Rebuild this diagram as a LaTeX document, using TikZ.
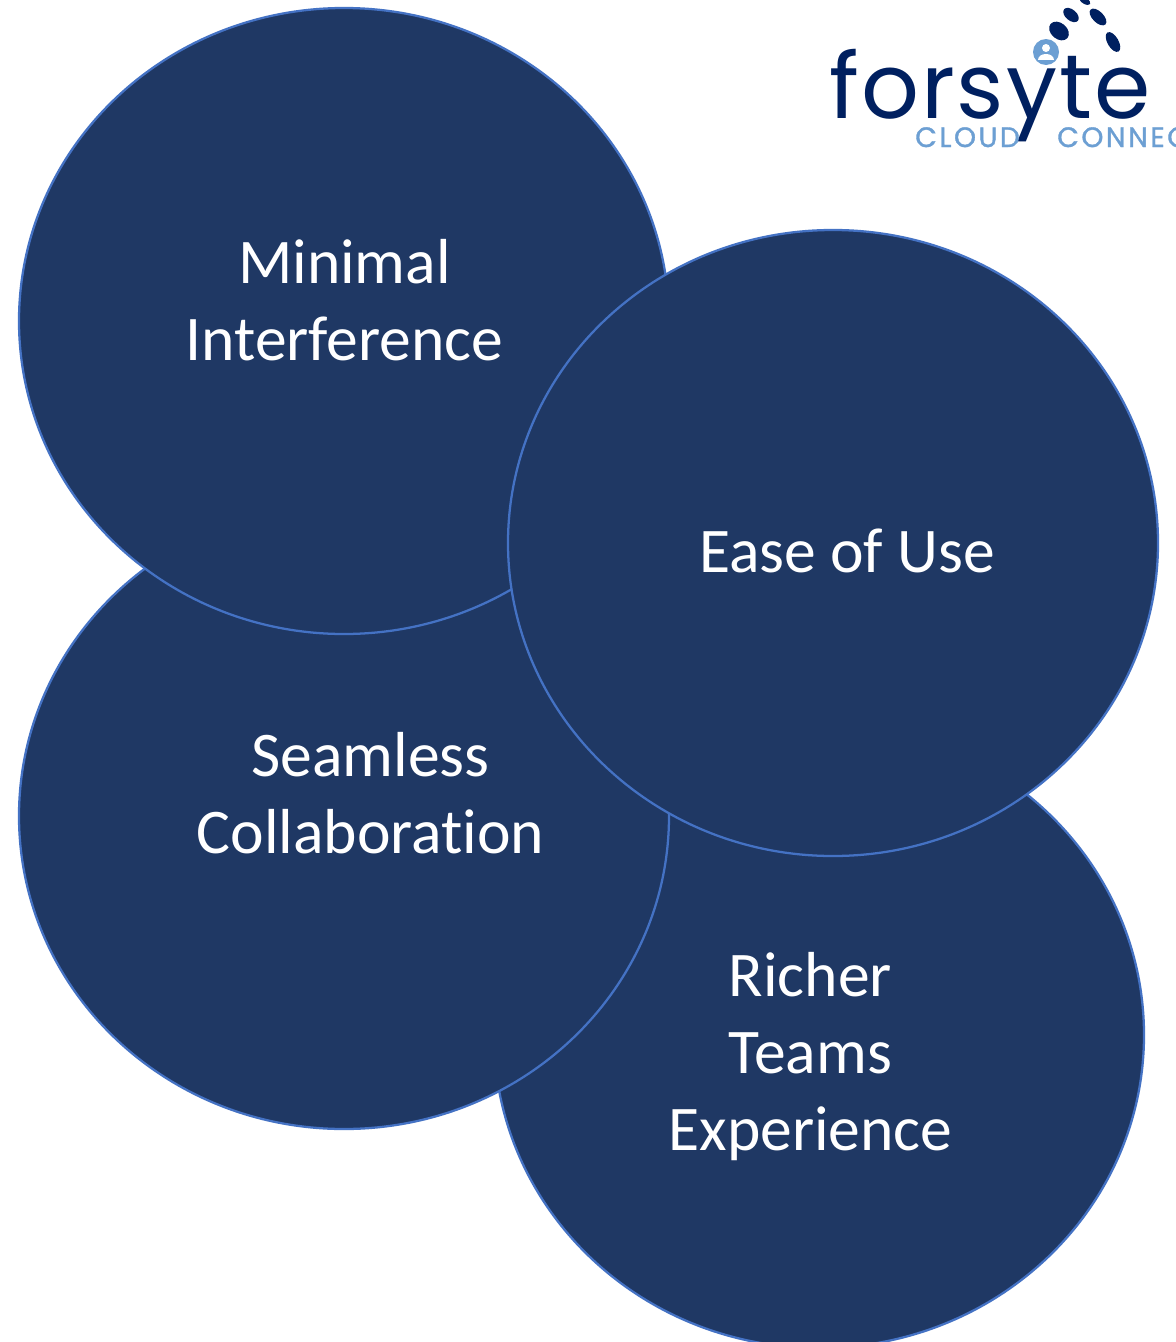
\documentclass[tikz,border=0pt]{standalone}
\usepackage{fontspec}
\setmainfont[Ligatures=NoCommon]{Carlito}
\newfontfamily\logofont[LetterSpace=2.2]{Poppins}
\newfontfamily\logosubfont[LetterSpace=9,FakeBold=1.2]{Poppins}
\definecolor{bubblefill}{HTML}{1F3864}
\definecolor{bubbleline}{HTML}{4472C4}
\definecolor{logonavy}{HTML}{002060}
\definecolor{logoblue}{HTML}{6C9FD3}
\tikzset{
  bubble/.style={draw=bubbleline,line width=1.7pt,fill=bubblefill},
  bubbletext/.style={text=white,font=\fontsize{47.7}{57.75}\selectfont,align=center,inner sep=0pt},
  subtext/.style={anchor=base west,inner sep=0pt,text=logoblue,font=\logosubfont\fontsize{21}{21}\selectfont},
  dot/.style={fill=logonavy,draw=none},
}
\begin{document}
\begin{tikzpicture}[x=0.75pt,y=-0.75pt]
\useasboundingbox[fill=white] (0,0) rectangle (1176,1342);
\begin{scope}
\clip (0,0) rectangle (1176,1342);
\path[bubble] (819,1035) ellipse [x radius=325,y radius=313];
\path[bubble] (344,816) ellipse [x radius=325,y radius=313];
\path[bubble] (344,321) ellipse [x radius=325,y radius=313];
\path[bubble] (833,543) ellipse [x radius=325,y radius=313];
\node[bubbletext] (minimal) at (344.5,300.5) {Minimal\\Interference};
\node[bubbletext] (ease) at (847,551) {Ease of Use};
\node[bubbletext] (seamless) at (370.5,793) {Seamless\\Collaboration};
\node[bubbletext] (richer) at (810.5,1057) {Richer\\Teams\\Experience};
% logo
\node[anchor=base west,inner sep=0pt,text=logonavy,font=\logofont\fontsize{68}{68}\selectfont] (forsyte) at (829,118) {forsyte};
\node[subtext] (cloud) at (915,147) {CLOUD};
\node[subtext] (connect) at (1057,147) {CONNEC};
\fill[dot,rotate around={-40:(1059,31)}] (1059,31) ellipse [x radius=11,y radius=8];
\fill[dot,rotate around={-40:(1071,15)}] (1071,15) ellipse [x radius=9,y radius=5.5];
\fill[dot,rotate around={-45:(1098,17)}] (1098,17) ellipse [x radius=10.5,y radius=5.5];
\fill[dot,rotate around={-60:(1113,42)}] (1113,42) ellipse [x radius=11,y radius=5.5];
\fill[dot,rotate around={-30:(1085,1)}] (1085,1) ellipse [x radius=6,y radius=3];
\fill[logoblue] (1046,52) circle [radius=13];
\fill[white] (1046,48) circle [radius=4];
\fill[white] (1038,60) .. controls (1038,52) and (1054,52) .. (1054,60) -- cycle;
\end{scope}
\end{tikzpicture}
\end{document}
